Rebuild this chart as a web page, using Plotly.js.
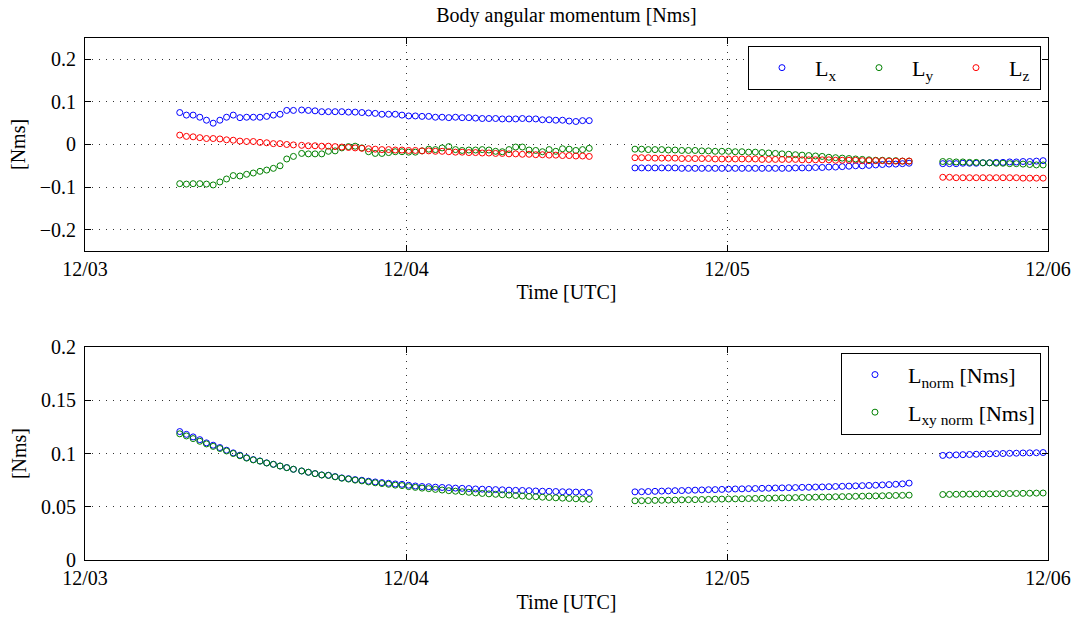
<!DOCTYPE html>
<html>
<head>
<meta charset="utf-8">
<script src="https://cdn.plot.ly/plotly-3.0.1.min.js"></script>
<style>html,body{margin:0;padding:0;background:#fff;}#chart{width:1080px;height:618px;}</style>
</head>
<body>
<div id="chart"></div>
<script>
// ---- sampling (segment start times, number of samples, 30-min cadence) ----
var segStarts = ['2015-12-03T07:05:00Z', '2015-12-03T16:12:00Z', '2015-12-04T17:07:00Z', '2015-12-05T16:08:00Z'];
var segCounts = [18, 44, 42, 16];
var stepMinutes = 30;

// ---- top panel: body angular momentum components [Nms] ----
var Lx = [
  0.075, 0.069, 0.069, 0.064, 0.057, 0.050, 0.057, 0.064, 0.069, 0.063, 0.064, 0.064, 0.064, 0.066, 0.069, 0.071, 0.080, 0.080,
  0.081, 0.080, 0.079, 0.077, 0.077, 0.077, 0.077, 0.076, 0.076, 0.075, 0.074, 0.073, 0.071, 0.071, 0.071, 0.069, 0.067, 0.067,
  0.066, 0.066, 0.064, 0.064, 0.063, 0.064, 0.063, 0.063, 0.062, 0.061, 0.061, 0.061, 0.060, 0.060, 0.060, 0.061, 0.060, 0.060,
  0.058, 0.058, 0.057, 0.057, 0.055, 0.054, 0.056, 0.056,
  -0.055, -0.055, -0.055, -0.055, -0.055, -0.055, -0.055, -0.056, -0.056, -0.056,
  -0.056, -0.056, -0.056, -0.056, -0.056, -0.056, -0.056, -0.056, -0.056, -0.056,
  -0.056, -0.056, -0.056, -0.056, -0.055, -0.055, -0.055, -0.054, -0.054, -0.053,
  -0.053, -0.052, -0.051, -0.050, -0.050, -0.049, -0.048, -0.047, -0.046, -0.046, -0.045, -0.044,
  -0.045, -0.045, -0.045, -0.044, -0.044, -0.044, -0.043, -0.043, -0.042, -0.042, -0.041, -0.041, -0.040, -0.040, -0.039, -0.038
];
var Ly = [
  -0.092, -0.093, -0.092, -0.092, -0.093, -0.095, -0.088, -0.081, -0.073, -0.074, -0.070, -0.067, -0.063, -0.060, -0.056, -0.050, -0.034, -0.028,
  -0.021, -0.022, -0.022, -0.022, -0.016, -0.015, -0.008, -0.005, -0.004, -0.008, -0.017, -0.021, -0.021, -0.019, -0.017, -0.017,
  -0.018, -0.018, -0.015, -0.011, -0.012, -0.008, -0.005, -0.012, -0.014, -0.013, -0.013, -0.012, -0.013, -0.016, -0.017, -0.012,
  -0.006, -0.006, -0.013, -0.014, -0.017, -0.012, -0.016, -0.010, -0.011, -0.014, -0.012, -0.009,
  -0.011, -0.011, -0.012, -0.012, -0.012, -0.013, -0.013, -0.014, -0.014, -0.014,
  -0.015, -0.015, -0.016, -0.016, -0.016, -0.017, -0.017, -0.018, -0.018, -0.019,
  -0.020, -0.021, -0.022, -0.023, -0.024, -0.025, -0.026, -0.027, -0.028, -0.030,
  -0.031, -0.032, -0.033, -0.034, -0.035, -0.036, -0.037, -0.037, -0.038, -0.038, -0.039, -0.039,
  -0.040, -0.040, -0.041, -0.041, -0.042, -0.042, -0.043, -0.043, -0.044, -0.044, -0.045, -0.045, -0.046, -0.047, -0.048, -0.048
];
var Lz = [
  0.022, 0.019, 0.018, 0.016, 0.014, 0.014, 0.013, 0.011, 0.010, 0.008, 0.007, 0.007, 0.005, 0.004, 0.002, 0.002, 0.000, -0.001,
  -0.002, -0.003, -0.003, -0.004, -0.004, -0.005, -0.006, -0.007, -0.008, -0.009, -0.010, -0.011, -0.012, -0.012, -0.013, -0.013,
  -0.014, -0.014, -0.015, -0.015, -0.016, -0.016, -0.017, -0.018, -0.018, -0.019, -0.019, -0.020, -0.020, -0.021, -0.021, -0.022,
  -0.022, -0.023, -0.023, -0.024, -0.024, -0.025, -0.025, -0.026, -0.026, -0.027, -0.027, -0.028,
  -0.031, -0.031, -0.031, -0.032, -0.032, -0.032, -0.032, -0.033, -0.033, -0.033,
  -0.033, -0.033, -0.034, -0.034, -0.034, -0.034, -0.034, -0.034, -0.034, -0.035,
  -0.035, -0.035, -0.035, -0.035, -0.035, -0.036, -0.036, -0.036, -0.036, -0.036,
  -0.037, -0.037, -0.037, -0.037, -0.038, -0.038, -0.038, -0.038, -0.039, -0.039, -0.039, -0.039,
  -0.077, -0.077, -0.078, -0.078, -0.078, -0.078, -0.078, -0.078, -0.078, -0.078, -0.078, -0.078, -0.079, -0.079, -0.079, -0.079
];

// ---- bottom panel: norms [Nms] ----
var Lnorm = [
  0.1206, 0.1180, 0.1156, 0.1130, 0.1100, 0.1078, 0.1056, 0.1031, 0.1006, 0.0984, 0.0961, 0.0943, 0.0930, 0.0912, 0.0899, 0.0883, 0.0868, 0.0852,
  0.0836, 0.0824, 0.0811, 0.0799, 0.0796, 0.0783, 0.0771, 0.0764, 0.0755, 0.0749, 0.0740, 0.0733, 0.0727, 0.0721, 0.0714, 0.0711, 0.0702, 0.0695,
  0.0690, 0.0688, 0.0684, 0.0681, 0.0679, 0.0675, 0.0673, 0.0671, 0.0667, 0.0665, 0.0663, 0.0661, 0.0659, 0.0656, 0.0654, 0.0653,
  0.0651, 0.0648, 0.0646, 0.0645, 0.0643, 0.0641, 0.0640, 0.0638, 0.0636, 0.0634,
  0.0640, 0.0641, 0.0643, 0.0645, 0.0647, 0.0649, 0.0651, 0.0652, 0.0654, 0.0656,
  0.0658, 0.0660, 0.0661, 0.0663, 0.0665, 0.0667, 0.0668, 0.0670, 0.0671, 0.0673,
  0.0674, 0.0676, 0.0677, 0.0679, 0.0680, 0.0682, 0.0683, 0.0685, 0.0686, 0.0688,
  0.0690, 0.0692, 0.0694, 0.0696, 0.0698, 0.0700, 0.0702, 0.0705, 0.0708, 0.0711, 0.0715, 0.0722,
  0.0982, 0.0985, 0.0987, 0.0989, 0.0991, 0.0993, 0.0995, 0.0997, 0.0999, 0.1000, 0.1002, 0.1003, 0.1005, 0.1006, 0.1007, 0.1009
];
var Lxynorm = [
  0.1185, 0.1165, 0.1140, 0.1115, 0.1090, 0.1067, 0.1047, 0.1024, 0.1000, 0.0979, 0.0957, 0.0940, 0.0928, 0.0911, 0.0898, 0.0882, 0.0867, 0.0852,
  0.0836, 0.0824, 0.0811, 0.0798, 0.0794, 0.0781, 0.0768, 0.0760, 0.0750, 0.0743, 0.0733, 0.0725, 0.0718, 0.0711, 0.0703, 0.0699, 0.0689, 0.0682,
  0.0675, 0.0670, 0.0663, 0.0657, 0.0651, 0.0646, 0.0641, 0.0636, 0.0630, 0.0625, 0.0621, 0.0617, 0.0613, 0.0610, 0.0605, 0.0601,
  0.0597, 0.0594, 0.0590, 0.0587, 0.0584, 0.0581, 0.0578, 0.0575, 0.0573, 0.0570,
  0.0556, 0.0557, 0.0558, 0.0560, 0.0561, 0.0562, 0.0563, 0.0565, 0.0566, 0.0567,
  0.0568, 0.0569, 0.0571, 0.0572, 0.0573, 0.0574, 0.0575, 0.0577, 0.0578, 0.0579,
  0.0580, 0.0582, 0.0583, 0.0584, 0.0586, 0.0587, 0.0588, 0.0590, 0.0591, 0.0592,
  0.0594, 0.0595, 0.0596, 0.0598, 0.0599, 0.0601, 0.0602, 0.0603, 0.0605, 0.0606, 0.0607, 0.0609,
  0.0615, 0.0616, 0.0617, 0.0618, 0.0619, 0.0620, 0.0620, 0.0621, 0.0622, 0.0623, 0.0624, 0.0625, 0.0626, 0.0627, 0.0628, 0.0629
];

// ---- axis labels ----
var dayTicks = ['2015-12-03', '2015-12-04', '2015-12-05', '2015-12-06'];
var dayTickText = ['12/03', '12/04', '12/05', '12/06'];
var topYTicks = [-0.2, -0.1, 0, 0.1, 0.2];
var botYTicks = [0, 0.05, 0.1, 0.15, 0.2];
var botYTickText = ['0', '0.05', '0.1', '0.15', '0.2'];

// build sample times
function pad(n){ return (n < 10 ? '0' : '') + n; }
function fmt(d){
  return d.getUTCFullYear() + '-' + pad(d.getUTCMonth()+1) + '-' + pad(d.getUTCDate()) + ' ' +
         pad(d.getUTCHours()) + ':' + pad(d.getUTCMinutes()) + ':00';
}
var t = [];
segStarts.forEach(function(s, k){
  var t0 = Date.parse(s);
  for (var i = 0; i < segCounts[k]; i++) t.push(fmt(new Date(t0 + i*stepMinutes*60000)));
});

var FONT = 'Liberation Serif, Times New Roman, Times, serif';
function mk(color){ return {symbol:'circle-open', size:6, color:color, line:{width:1, color:color}}; }

var traces = [
  {x:t, y:Lx, type:'scatter', mode:'markers', name:'L<sub>x</sub>', marker:mk('#0000ff'), xaxis:'x', yaxis:'y', legend:'legend'},
  {x:t, y:Ly, type:'scatter', mode:'markers', name:'L<sub>y</sub>', marker:mk('#008000'), xaxis:'x', yaxis:'y', legend:'legend'},
  {x:t, y:Lz, type:'scatter', mode:'markers', name:'L<sub>z</sub>', marker:mk('#ff0000'), xaxis:'x', yaxis:'y', legend:'legend'},
  {x:t, y:Lnorm, type:'scatter', mode:'markers', name:'L<sub>norm</sub> [Nms]', marker:mk('#0000ff'), xaxis:'x2', yaxis:'y2', legend:'legend2', legendgroup:'a'},
  {x:t, y:Lxynorm, type:'scatter', mode:'markers', name:'L<sub>xy norm</sub> [Nms]', marker:mk('#008000'), xaxis:'x2', yaxis:'y2', legend:'legend2', legendgroup:'b'}
];

function xax(anchor){
  return {
    anchor: anchor, domain:[0,1], type:'date',
    range:['2015-12-03 00:00:00', '2015-12-06 00:00:00'],
    tickmode:'array', tickvals:dayTicks, ticktext:dayTickText,
    showgrid:true, gridcolor:'#333', griddash:'1px,6px', gridwidth:1,
    showline:true, linecolor:'#000', linewidth:1, mirror:'ticks',
    ticks:'inside', ticklen:6, tickcolor:'#000', zeroline:false,
    tickfont:{family:FONT, size:20, color:'#000'},
    title:{text:'Time [UTC]', font:{family:FONT, size:20, color:'#000'}, standoff:6}
  };
}
function yax(anchor, domain, range, vals, text){
  var a = {
    anchor: anchor, domain:domain, range:range,
    tickmode:'array', tickvals:vals,
    showgrid:true, gridcolor:'#333', griddash:'1px,6px', gridwidth:1,
    showline:true, linecolor:'#000', linewidth:1, mirror:'ticks',
    ticks:'inside', ticklen:6, tickcolor:'#000', zeroline:false,
    tickfont:{family:FONT, size:20, color:'#000'},
    ticklabelstandoff:4,
    title:{text:'[Nms]', font:{family:FONT, size:20, color:'#000'}, standoff:8}
  };
  if (text) a.ticktext = text;
  return a;
}

var layout = {
  width:1080, height:618,
  margin:{l:85, r:32, t:38, b:58, pad:0},
  paper_bgcolor:'#fff', plot_bgcolor:'#fff',
  font:{family:FONT, size:20, color:'#000'},
  title:{text:'Body angular momentum [Nms]', x:0.5, xref:'paper', xanchor:'center', y:0.975, yref:'container', yanchor:'middle',
         font:{family:FONT, size:20, color:'#000'}},
  showlegend:true,
  xaxis: xax('y'),
  yaxis: yax('x', [0.592, 1], [-0.25, 0.25], topYTicks),
  xaxis2: xax('y2'),
  yaxis2: yax('x2', [0, 0.408], [0, 0.2], botYTicks, botYTickText),
  legend:{orientation:'h', x:0.9927, xanchor:'right', y:0.985, yanchor:'top',
          bordercolor:'#000', borderwidth:1, bgcolor:'#fff',
          font:{family:FONT, size:22, color:'#000'}, itemwidth:56, entrywidth:26},
  legend2:{orientation:'v', x:0.9927, xanchor:'right', y:0.397, yanchor:'top',
          bordercolor:'#000', borderwidth:1, bgcolor:'#fff', tracegroupgap:6,
          font:{family:FONT, size:22, color:'#000'}, itemwidth:56}
};

Plotly.newPlot('chart', traces, layout, {displayModeBar:false, staticPlot:true});
</script>
</body>
</html>
